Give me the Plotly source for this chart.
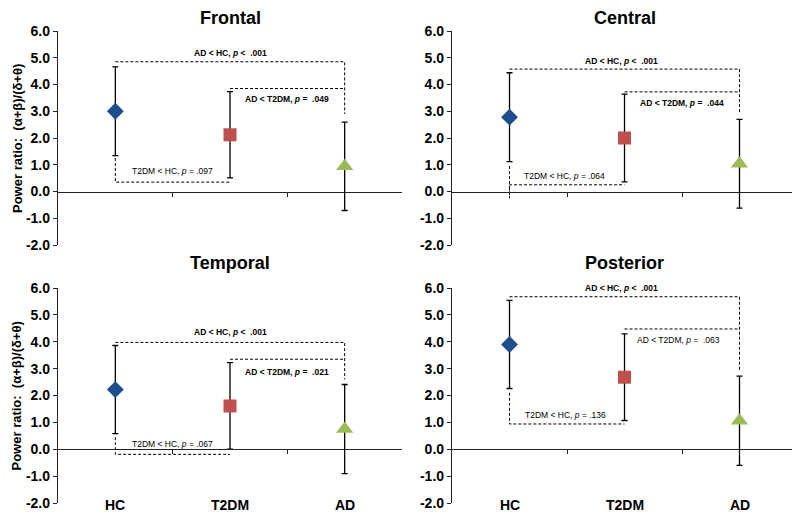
import plotly.graph_objects as go

FONT = "Arial, Liberation Sans, sans-serif"

# ---- data ----
groups = ["HC", "T2DM", "AD"]
regions = ["Frontal", "Central", "Temporal", "Posterior"]
y_tick_vals = [-2, -1, 0, 1, 2, 3, 4, 5, 6]
y_tick_text = ["-2.0", "-1.0", "0.0", "1.0", "2.0", "3.0", "4.0", "5.0", "6.0"]

frontal_mean = [3.00, 2.12, 0.94]
frontal_err = [1.66, 1.61, 1.65]
central_mean = [2.78, 2.00, 1.04]
central_err = [1.66, 1.64, 1.66]
temporal_mean = [2.22, 1.61, 0.75]
temporal_err = [1.64, 1.61, 1.66]
posterior_mean = [3.90, 2.68, 1.06]
posterior_err = [1.64, 1.61, 1.66]

means = [frontal_mean, central_mean, temporal_mean, posterior_mean]
errors = [frontal_err, central_err, temporal_err, posterior_err]

p_ad_hc = [".001", ".001", ".001", ".001"]
p_ad_t2dm = [".049", ".044", ".021", ".063"]
p_t2dm_hc = [".097", ".064", ".067", ".136"]
ad_t2dm_bold = [True, True, True, False]

group_colors = ["#1F4E8C", "#C0504D", "#9BBB59"]
group_symbols = ["diamond", "square", "triangle-up"]
group_sizes = [13, 13, 15]

# bracket geometry per panel (levels in y units)
top_level = [4.85, 4.575, 3.975, 5.675]
top_drop_end = [2.90, 2.95, 2.60, 2.94]
mid_level = [3.85, 3.725, 3.35, 4.475]
low_start = [1.25, 0.95, 0.45, 2.10]
low_level = [0.35, 0.25, -0.19, 0.94]
low_drop_end = [0.35, -0.25, -0.19, 0.94]
top_text = [(1.0, 5.16), (0.97, 4.89), (1.0, 4.35), (0.97, 6.0)]
mid_text = [(1.5, 3.44), (1.5, 3.29), (1.5, 2.875), (1.47, 4.06)]
low_text = [(0.5, 0.76), (0.48, 0.575), (0.5, 0.21), (0.49, 1.275)]

# ---- layout geometry ----
# the page body adds an 8px offset, so the figure is 8px smaller on each axis
x_domains = [[0, 0.4655], [0.5332, 1.0], [0, 0.4655], [0.5332, 1.0]]
y_domains = [[0.5466, 1.0], [0.5466, 1.0], [0, 0.4555], [0, 0.4555]]
title_y = [1.0275, 1.0275, 0.5085, 0.5085]
Y_MIN, Y_MAX = -2.0, 6.0

fig = go.Figure()
annotations = []
DASH = "3px,2px"

for i, region in enumerate(regions):
    n = "" if i == 0 else str(i + 1)
    xa, ya = "x" + n, "y" + n
    # brackets
    bx = [0, 2, 2, None, 1, 2, None, 0, 0, 0, 1]
    by = [top_level[i], top_level[i], top_drop_end[i], None,
          mid_level[i], mid_level[i], None,
          low_start[i], low_drop_end[i], low_level[i], low_level[i]]
    fig.add_trace(go.Scatter(
        x=bx, y=by, mode="lines", xaxis=xa, yaxis=ya, showlegend=False,
        line=dict(color="black", width=1, dash=DASH), hoverinfo="skip",
    ))
    # group points with SD bars
    for g in range(len(groups)):
        fig.add_trace(go.Scatter(
            x=[g], y=[means[i][g]], mode="markers", xaxis=xa, yaxis=ya,
            showlegend=False, name=groups[g],
            marker=dict(symbol=group_symbols[g], size=group_sizes[g],
                        color=group_colors[g], line=dict(width=0)),
            error_y=dict(type="data", array=[errors[i][g]], color="black",
                         thickness=1.3, width=3),
        ))

    dom = y_domains[i]
    zero_pos = dom[0] + (0 - Y_MIN) / (Y_MAX - Y_MIN) * (dom[1] - dom[0])
    fig.update_layout({
        "xaxis" + n: dict(
            domain=x_domains[i], range=[-0.5, 2.5], anchor="free",
            position=zero_pos, showline=True, linecolor="#222", linewidth=1.3,
            ticks="outside", tickvals=[0.5, 1.5], ticklen=4, tickcolor="#222",
            showticklabels=False, showgrid=False, zeroline=False,
        ),
        "yaxis" + n: dict(
            domain=dom, range=[Y_MIN, Y_MAX], anchor=xa,
            tickvals=y_tick_vals, ticktext=y_tick_text,
            showline=True, linecolor="#222", linewidth=1.3,
            ticks="outside", ticklen=4, tickcolor="#222", showgrid=False,
            zeroline=False,
            tickfont=dict(family=FONT, size=14, color="black", weight="bold"),
        ),
    })

    # panel title
    annotations.append(dict(
        text="<b>%s</b>" % region, xref=xa, yref="paper", x=1, y=title_y[i],
        showarrow=False, font=dict(family=FONT, size=18, color="black"),
        yanchor="middle",
    ))
    # bracket labels
    annotations.append(dict(
        text="<b>AD &lt; HC, <i>p</i> &lt;  %s</b>" % p_ad_hc[i], xref=xa, yref=ya,
        x=top_text[i][0], y=top_text[i][1], showarrow=False,
        font=dict(family=FONT, size=8.5, color="black"),
    ))
    mt = "AD &lt; T2DM, <i>p</i> =  %s" % p_ad_t2dm[i]
    if ad_t2dm_bold[i]:
        mt = "<b>%s</b>" % mt
    annotations.append(dict(
        text=mt, xref=xa, yref=ya, x=mid_text[i][0], y=mid_text[i][1],
        showarrow=False, font=dict(family=FONT, size=8.5, color="black"),
    ))
    annotations.append(dict(
        text="T2DM &lt; HC, <i>p</i> = %s" % p_t2dm_hc[i], xref=xa, yref=ya,
        x=low_text[i][0], y=low_text[i][1], showarrow=False,
        font=dict(family=FONT, size=8.5, color="black"),
    ))
    # y-axis title on the left column
    if i % 2 == 0:
        annotations.append(dict(
            text="<b>Power ratio:  (α+β)/(δ+θ)</b>", xref="paper", yref="paper",
            x=-0.0555, y=(dom[0] + dom[1]) / 2, textangle=-90, showarrow=False,
            font=dict(family=FONT, size=13, color="black"),
            xanchor="center", yanchor="middle",
        ))
    # category labels under the bottom row
    if i >= 2:
        for g, label in enumerate(groups):
            annotations.append(dict(
                text="<b>%s</b>" % label, xref=xa, yref=ya, x=g, y=Y_MIN,
                yanchor="middle", yshift=-2, showarrow=False,
                font=dict(family=FONT, size=14, color="black"),
            ))

fig.update_layout(
    width=792, height=507,
    margin=dict(l=50, r=3, t=23, b=12),
    paper_bgcolor="white", plot_bgcolor="white",
    annotations=annotations,
    showlegend=False,
)

fig.write_html("out.html")
